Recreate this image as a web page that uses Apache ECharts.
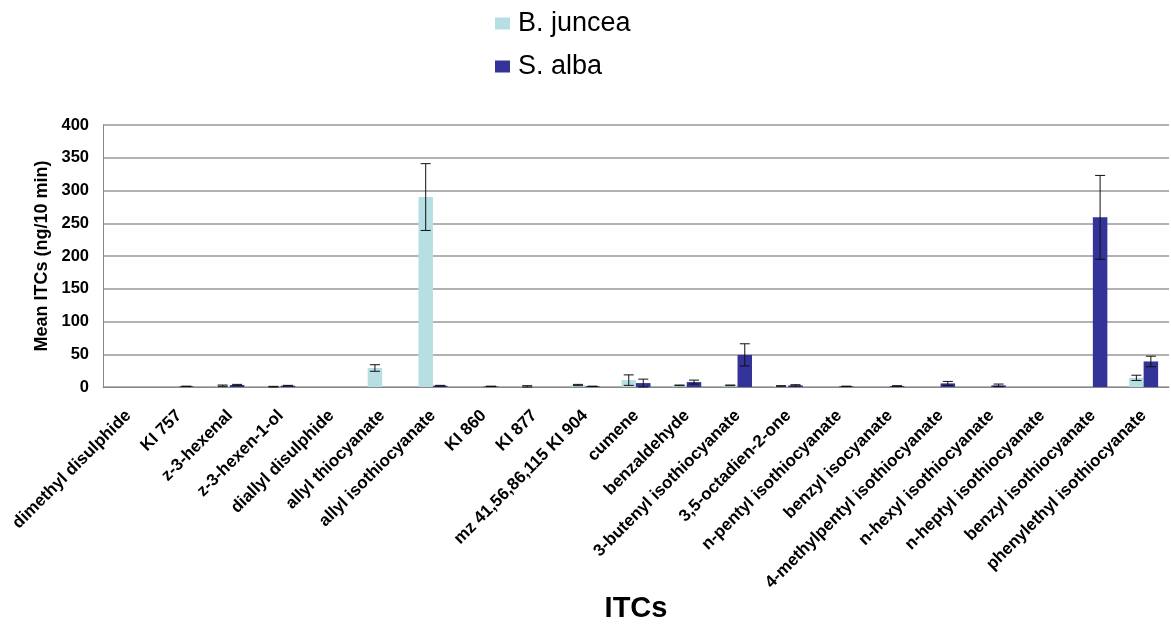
<!DOCTYPE html>
<html>
<head>
<meta charset="utf-8">
<script src="https://cdn.jsdelivr.net/npm/echarts@6/dist/echarts.min.js"></script>
<style>
  html, body { margin: 0; padding: 0; background: #fff; }
  #chart { width: 1171px; height: 625px; }
</style>
</head>
<body>
<div id="chart"></div>
<script>
const categories = ['dimethyl disulphide', 'KI 757', 'z-3-hexenal', 'z-3-hexen-1-ol', 'diallyl disulphide',
  'allyl thiocyanate', 'allyl isothiocyanate', 'KI 860', 'KI 877', 'mz 41,56,86,115 KI 904', 'cumene',
  'benzaldehyde', '3-butenyl isothiocyanate', '3,5-octadien-2-one', 'n-pentyl isothiocyanate',
  'benzyl isocyanate', '4-methylpentyl isothiocyanate', 'n-hexyl isothiocyanate', 'n-heptyl isothiocyanate',
  'benzyl isothiocyanate', 'phenylethyl isothiocyanate'];

const junceaMean = [0, 0, 2, 0.5, 0, 29, 290, 0, 0.5, 3, 10.5, 2.5, 2.5, 1.5, 0, 0, 0, 0, 0, 0, 14];
const junceaErr  = [0, 0, 1, 0.5, 0, 5, 51, 0, 1.5, 1, 8, 0.5, 0.5, 0.5, 0, 0, 0, 0, 0, 0, 4];
const albaMean   = [0, 1, 3, 2, 0, 0, 2, 1, 0, 1, 6, 7.5, 49, 2.5, 1, 1.5, 5.5, 2.5, 0, 259, 39];
const albaErr    = [0, 0.3, 1, 0.5, 0, 0, 0.5, 0.3, 0, 0.3, 6, 3, 17, 1, 0.3, 0.5, 3, 2, 0, 64, 8];

const yTicks = [0, 50, 100, 150, 200, 250, 300, 350, 400];

const barW = 14.5;

// error bars drawn on top of each bar
function errorSeries(mean, err, offset) {
  return {
    type: 'custom',
    silent: true,
    z: 10,
    data: mean.map((m, i) => [i, m, err[i]]),
    renderItem: (params, api) => {
      const i = api.value(0);
      const m = api.value(1);
      const e = api.value(2);
      if (!e) return null;
      const top = api.coord([i, m + e]);
      const bot = api.coord([i, Math.max(m - e, 0)]);
      const x = top[0] + offset;
      const cap = 5;
      const style = { stroke: '#111', lineWidth: 1 };
      return {
        type: 'group',
        children: [
          { type: 'line', shape: { x1: x, y1: top[1], x2: x, y2: bot[1] }, style },
          { type: 'line', shape: { x1: x - cap, y1: top[1], x2: x + cap, y2: top[1] }, style },
          { type: 'line', shape: { x1: x - cap, y1: bot[1], x2: x + cap, y2: bot[1] }, style }
        ]
      };
    }
  };
}

const font = 'Liberation Sans, Arial, sans-serif';
const chart = echarts.init(document.getElementById('chart'));
chart.setOption({
  animation: false,
  textStyle: { fontFamily: font },
  legend: {
    orient: 'vertical',
    left: 490,
    top: 5,
    itemWidth: 15,
    itemHeight: 12,
    itemGap: 16,
    icon: 'rect',
    data: ['B. juncea', 'S. alba'],
    textStyle: { fontSize: 27, color: '#000', fontFamily: font, padding: [0, 0, 0, 3] }
  },
  grid: { left: 103, right: 2, top: 125, bottom: 238, outerBoundsMode: 'none' },
  xAxis: {
    type: 'category',
    data: categories,
    name: 'ITCs',
    nameLocation: 'middle',
    nameGap: 205,
    nameTextStyle: { fontSize: 29, fontWeight: 'bold', color: '#000' },
    axisLine: { lineStyle: { color: '#888', width: 1 } },
    axisTick: { show: false },
    axisLabel: {
      interval: 0,
      rotate: 45,
      fontSize: 17,
      fontWeight: 'bold',
      color: '#000',
      margin: 26
    }
  },
  yAxis: {
    type: 'value',
    min: 0,
    max: 400,
    interval: 50,
    name: 'Mean ITCs (ng/10 min)',
    nameLocation: 'middle',
    nameGap: 46,
    nameTextStyle: { fontSize: 18, fontWeight: 'bold', color: '#000' },
    axisLine: { show: true, lineStyle: { color: '#888', width: 1 } },
    axisTick: { show: false },
    axisLabel: {
      fontSize: 16.5,
      fontWeight: 'bold',
      color: '#000',
      margin: 14,
      formatter: v => yTicks.includes(v) ? String(v) : ''
    },
    splitLine: { lineStyle: { color: '#999', width: 1.5 } }
  },
  series: [
    {
      name: 'B. juncea',
      type: 'bar',
      barWidth: barW,
      barGap: '0%',
      itemStyle: { color: '#B7DEE3' },
      data: junceaMean
    },
    {
      name: 'S. alba',
      type: 'bar',
      barWidth: barW,
      barGap: '0%',
      itemStyle: { color: '#333399' },
      data: albaMean
    },
    errorSeries(junceaMean, junceaErr, -barW / 2),
    errorSeries(albaMean, albaErr, barW / 2)
  ]
});
</script>
</body>
</html>
